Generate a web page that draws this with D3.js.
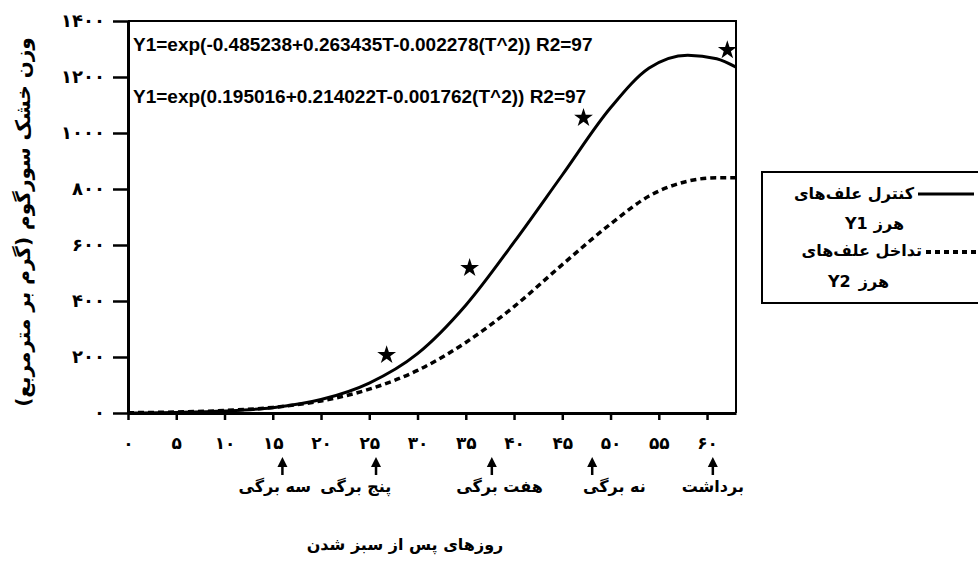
<!DOCTYPE html>
<html>
<head>
<meta charset="utf-8">
<script src="https://cdn.jsdelivr.net/npm/d3@7"></script>
<style>
  body { margin: 0; background: #fff; }
  svg { display: block; }
  .fa { font-family: "DejaVu Sans", sans-serif; font-weight: bold; fill: #000; }
  .eq { font-family: "Liberation Sans", Arial, sans-serif; font-weight: bold; font-size: 19px; }
</style>
</head>
<body>
<div id="chart"></div>
<script>
// days after emergence
const days = [0, 5, 10, 15, 20, 25, 30, 35, 40, 45, 50, 54, 58, 61, 63]
// sorghum dry weight (g/m2), weed free
const weedFree = [0, 2, 7, 19, 48, 107, 212, 385, 610, 850, 1090, 1232, 1278, 1265, 1235]
// sorghum dry weight (g/m2), weed interference
const weedy = [1, 3.5, 9, 20, 43, 85, 152, 252, 380, 530, 675, 775, 828, 840, 840]
// observed points (stars)
const obsDays = [26.8, 35.4, 47.2, 62.1]
const obsWeight = [207, 518, 1054, 1296]

const xTicks = [0, 5, 10, 15, 20, 25, 30, 35, 40, 45, 50, 55, 60]
const yTicks = [0, 200, 400, 600, 800, 1000, 1200, 1400]

const stageDays = [16, 25.7, 37.7, 48.1, 60.6]
const stageLabelDays = [15.2, 23.6, 38.5, 50.4, 60.6]
const stageLabels = ['سه برگی', 'پنج برگی', 'هفت برگی', 'نه برگی', 'برداشت']

const eq1 = 'Y1=exp(-0.485238+0.263435T-0.002278(T^2)) R2=97'
const eq2 = 'Y1=exp(0.195016+0.214022T-0.001762(T^2)) R2=97'

const fa = n => String(n).replace(/\d/g, d => '۰۱۲۳۴۵۶۷۸۹'[d])

let W = 978, H = 575
let svg = d3.select('#chart').append('svg')
  .attr('width', W).attr('height', H)

let x = d3.scaleLinear().domain([0, 63]).range([128, 736])
let y = d3.scaleLinear().domain([0, 1400]).range([413, 21])

// frame (top / right)
svg.append('path')
  .attr('d', `M ${x(0)} ${y(1400)} H ${x(63)} V ${y(0)}`)
  .attr('fill', 'none').attr('stroke', '#000').attr('stroke-width', 2)

// y axis
let yAxis = svg.append('g')
  .attr('transform', `translate(${x(0)},0)`)
  .call(d3.axisLeft(y).tickValues(yTicks).tickSize(15).tickSizeOuter(0)
    .tickPadding(8).tickFormat(fa))
yAxis.select('.domain').attr('stroke-width', 3)
yAxis.selectAll('.tick line').attr('stroke-width', 2.5)
yAxis.selectAll('.tick text').attr('class', 'fa')
  .style('font-size', '18px').style('letter-spacing', '1.5px')
  .attr('font-family', null)

// x axis
let xAxis = svg.append('g')
  .attr('transform', `translate(0,${y(0)})`)
  .call(d3.axisBottom(x).tickValues(xTicks).tickSize(7).tickSizeOuter(0)
    .tickPadding(17).tickFormat(fa))
xAxis.select('.domain').attr('stroke-width', 3)
xAxis.selectAll('.tick line').attr('stroke-width', 2.5)
xAxis.selectAll('.tick text').attr('class', 'fa').style('font-size', '17px')
  .attr('font-family', null)

// curves
let line = (vals) => d3.line()
  .x((d, i) => x(days[i]))
  .y(d => y(d))
  .curve(d3.curveMonotoneX)(vals)

svg.append('path')
  .attr('d', line(weedy))
  .attr('fill', 'none').attr('stroke', '#000')
  .attr('stroke-width', 3.5).attr('stroke-dasharray', '6,4')

svg.append('path')
  .attr('d', line(weedFree))
  .attr('fill', 'none').attr('stroke', '#000').attr('stroke-width', 3)

// observed points
svg.selectAll('.star')
  .data(obsDays)
  .join('path')
  .attr('class', 'star')
  .attr('transform', (d, i) => `translate(${x(d)},${y(obsWeight[i])})`)
  .attr('d', d3.symbol(d3.symbolStar, 110))
  .attr('fill', '#000')

// equations
svg.append('text').attr('class', 'eq')
  .attr('x', 133).attr('y', 51).text(eq1)
svg.append('text').attr('class', 'eq')
  .attr('x', 133).attr('y', 103).text(eq2)

// y title
svg.append('text').attr('class', 'fa')
  .attr('transform', `translate(30,${(y(0) + y(1400)) / 2 + 5}) rotate(-90)`)
  .attr('text-anchor', 'middle')
  .style('font-size', '20px')
  .text('وزن خشک سورگوم (گرم بر مترمربع)')

// growth stage arrows
let arrows = svg.selectAll('.arrow')
  .data(stageDays)
  .join('g')
  .attr('class', 'arrow')
  .attr('transform', d => `translate(${x(d)},0)`)
arrows.append('path')
  .attr('d', 'M 0 457 L -5 467 L 5 467 Z')
  .attr('fill', '#000')
arrows.append('line')
  .attr('y1', 465).attr('y2', 475)
  .attr('stroke', '#000').attr('stroke-width', 2.5)

svg.selectAll('.stage')
  .data(stageLabels)
  .join('text')
  .attr('class', 'fa stage')
  .attr('x', (d, i) => x(stageLabelDays[i]))
  .attr('y', 492)
  .attr('text-anchor', 'middle')
  .style('font-size', '16px')
  .text(d => d)

// x title
svg.append('text').attr('class', 'fa')
  .attr('x', 405).attr('y', 550)
  .attr('text-anchor', 'middle')
  .style('font-size', '16px')
  .text('روزهای پس از سبز شدن')

// legend
let lg = svg.append('g')
lg.append('rect')
  .attr('x', 762).attr('y', 172).attr('width', 240).attr('height', 131)
  .attr('fill', 'none').attr('stroke', '#000').attr('stroke-width', 2)

let legendText = (txt, xx, yy, anchor) => lg.append('text').attr('class', 'fa')
  .attr('x', xx).attr('y', yy).attr('text-anchor', anchor)
  .style('font-size', '16px').text(txt)

legendText('کنترل علف‌های', 914, 199, 'end')
lg.append('line')
  .attr('x1', 918).attr('x2', 974).attr('y1', 194).attr('y2', 194)
  .attr('stroke', '#000').attr('stroke-width', 3)
legendText('Y1', 845, 229, 'start')
legendText('هرز', 904, 229, 'end')

legendText('تداخل علف‌های', 922, 256, 'end')
lg.append('line')
  .attr('x1', 926).attr('x2', 978).attr('y1', 252).attr('y2', 252)
  .attr('stroke', '#000').attr('stroke-width', 4).attr('stroke-dasharray', '5,4')
legendText('Y2', 828, 287, 'start')
legendText('هرز', 889, 287, 'end')
</script>
</body>
</html>
